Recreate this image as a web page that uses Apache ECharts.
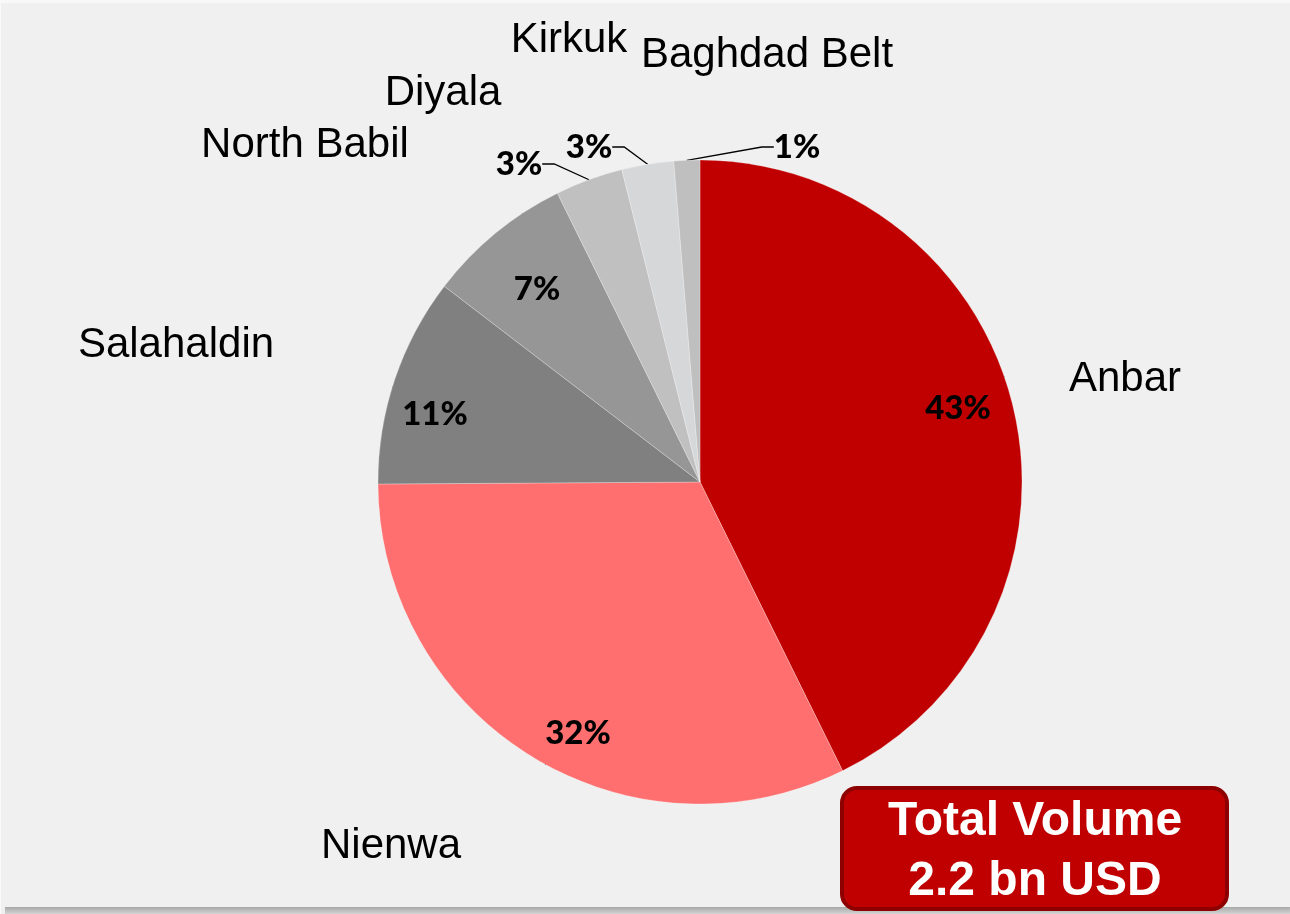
<!DOCTYPE html>
<html>
<head>
<meta charset="utf-8">
<title>Volume by region</title>
<style>
  html, body { margin: 0; padding: 0; background: #f0f0f0; }
  #chart { width: 1290px; height: 914px; }
</style>
<script src="https://cdn.jsdelivr.net/npm/echarts@6.0.0/dist/echarts.min.js"></script>
</head>
<body>
<div id="chart"></div>
<script>
// data (share of total volume, %)
const regions = ['Anbar', 'Nienwa', 'Salahaldin', 'North Babil', 'Diyala', 'Kirkuk', 'Baghdad Belt'];
const shares = [42.7, 32.2, 10.5, 7.3, 3.4, 2.6, 1.3];
const totalTitle = 'Total Volume';
const totalValue = '2.2 bn USD';

const sliceColors = ['#c00000', '#ff6f6f', '#808080', '#969696', '#c0c0c0', '#d6d7d9', '#bfbfbf'];

// label placement (text centres), set by hand like in the original slide
const pctLabelPos = [[958, 408], [578, 733], [435, 414], [537, 289], [519, 164], [589, 147], [797, 147]];
const nameLabelPos = [[1125, 379], [391, 846], [176, 345], [305, 145], [443, 93], [569, 40], [767, 55]];

const CX = 700;
const CY = 482;
const R = 322;

const chart = echarts.init(document.getElementById('chart'), null, { renderer: 'canvas' });

const pieData = regions.map((name, i) => ({ name, value: shares[i] }));

const pctData = regions.map((name, i) => ({
  name,
  value: shares[i],
  label: { position: shares[i] < 5 ? 'outside' : 'inside' },
}));

function placeAt(table) {
  return (params) => {
    const p = table[params.dataIndex];
    return { x: p[0], y: p[1], align: 'center', verticalAlign: 'middle' };
  };
}

chart.setOption({
  backgroundColor: '#f0f0f0',
  animation: false,
  graphic: [
    { type: 'rect', z: 0, shape: { x: 0, y: 0, width: 1290, height: 3 }, style: { fill: '#f8f8f8' } },
    { type: 'rect', z: 0, shape: { x: 0, y: 0, width: 1, height: 914 }, style: { fill: '#fafafa' } },
    {
      type: 'rect',
      z: 0,
      shape: { x: 5, y: 907, width: 1285, height: 7 },
      style: {
        fill: new echarts.graphic.LinearGradient(0, 0, 0, 1, [
          { offset: 0, color: '#a8a8a8' },
          { offset: 1, color: '#d4d4d4' },
        ]),
      },
    },
    {
      type: 'rect',
      z: 10,
      shape: { x: 842, y: 788, width: 385, height: 121, r: 15 },
      style: { fill: '#c00000', stroke: '#8e0000', lineWidth: 4 },
    },
    {
      type: 'text',
      z: 11,
      style: {
        text: totalTitle + '\n' + totalValue,
        x: 1035,
        y: 852,
        textAlign: 'center',
        textVerticalAlign: 'middle',
        font: 'bold 48px "Liberation Sans", Arial, sans-serif',
        lineHeight: 60,
        fill: '#ffffff',
      },
    },
  ],
  series: [
    {
      type: 'pie',
      center: [CX, CY],
      radius: [0, R],
      startAngle: 90,
      clockwise: true,
      silent: true,
      label: { show: false },
      labelLine: { show: false },
      itemStyle: { borderWidth: 1, borderColor: 'rgba(255,255,255,0.25)' },
      color: sliceColors,
      data: pieData,
    },
    {
      // percentage labels
      type: 'pie',
      center: [CX, CY],
      radius: [210, R],
      startAngle: 90,
      clockwise: true,
      silent: true,
      avoidLabelOverlap: false,
      percentPrecision: 0,
      itemStyle: { color: 'rgba(0,0,0,0)', borderWidth: 0 },
      label: {
        show: true,
        formatter: '{d}%',
        color: '#000',
        fontFamily: 'Lato, "Open Sans", sans-serif',
        fontWeight: 900,
        fontSize: 33,
      },
      labelLine: {
        show: true,
        length: 10,
        length2: 12,
        lineStyle: { color: '#000', width: 1.3 },
      },
      labelLayout: placeAt(pctLabelPos),
      data: pctData,
    },
    {
      // region names
      type: 'pie',
      center: [CX, CY],
      radius: [400, 540],
      startAngle: 90,
      clockwise: true,
      silent: true,
      avoidLabelOverlap: false,
      itemStyle: { color: 'rgba(0,0,0,0)', borderWidth: 0 },
      label: {
        show: true,
        position: 'inside',
        formatter: '{b}',
        color: '#000',
        fontFamily: '"Liberation Sans", Arial, sans-serif',
        fontSize: 42,
      },
      labelLine: { show: false },
      labelLayout: placeAt(nameLabelPos),
      data: pieData,
    },
  ],
});
</script>
</body>
</html>
